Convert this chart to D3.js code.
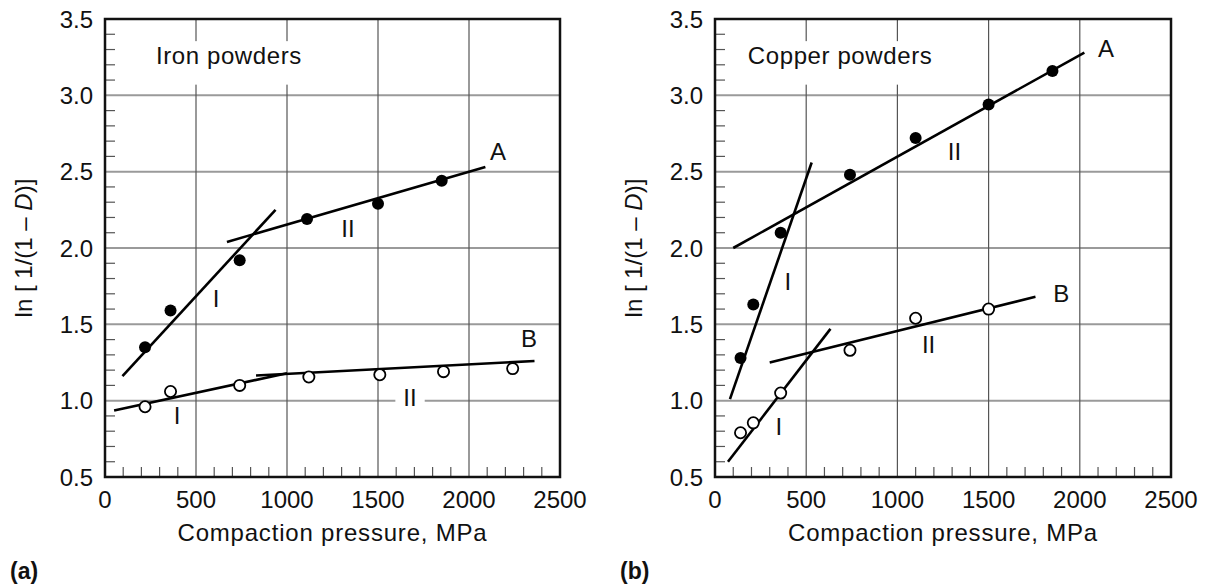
<!DOCTYPE html>
<html>
<head>
<meta charset="utf-8">
<script src="https://cdn.jsdelivr.net/npm/d3@7"></script>
<style>
  body { margin: 0; background: #fff; }
  svg { display: block; }
  text { font-family: "Liberation Sans", Arial, Helvetica, sans-serif; fill: #111; }
</style>
</head>
<body>
<svg id="chart" width="1210" height="587"></svg>
<script>
// ---------- data ----------
const xTicks = [0, 500, 1000, 1500, 2000, 2500];
const yTicks = [0.5, 1.0, 1.5, 2.0, 2.5, 3.0, 3.5];
const xGrid = [500, 1000, 1500, 2000];
const yGrid = [1.0, 1.5, 2.0, 2.5, 3.0];

// Iron powders
const ironA_x = [220, 360, 740, 1110, 1500, 1850];
const ironA_y = [1.35, 1.59, 1.92, 2.19, 2.29, 2.44];
const ironB_x = [220, 360, 740, 1120, 1510, 1860, 2240];
const ironB_y = [0.96, 1.06, 1.10, 1.155, 1.17, 1.19, 1.21];
const ironLineA_I  = [[96, 1.16], [937, 2.25]];
const ironLineA_II = [[670, 2.04], [2090, 2.53]];
const ironLineB_I  = [[50, 0.935], [1000, 1.18]];
const ironLineB_II = [[830, 1.165], [2360, 1.26]];
const ironLabels = [
  {t: "A", x: 2159, y: 2.63}, {t: "I", x: 610, y: 1.67}, {t: "II", x: 1335, y: 2.13},
  {t: "B", x: 2330, y: 1.41}, {t: "I", x: 396, y: 0.905}, {t: "II", x: 1676, y: 1.02, bg: true}
];

// Copper powders
const copperA_x = [140, 210, 360, 740, 1100, 1500, 1850];
const copperA_y = [1.28, 1.63, 2.10, 2.48, 2.72, 2.94, 3.16];
const copperB_x = [140, 210, 360, 740, 1100, 1500];
const copperB_y = [0.79, 0.855, 1.05, 1.33, 1.54, 1.60];
const copperLineA_I  = [[82, 1.01], [530, 2.56]];
const copperLineA_II = [[100, 2.0], [2025, 3.28]];
const copperLineB_I  = [[71, 0.60], [633, 1.47]];
const copperLineB_II = [[300, 1.25], [1757, 1.68]];
const copperLabels = [
  {t: "A", x: 2144, y: 3.31}, {t: "II", x: 1313, y: 2.63}, {t: "I", x: 399, y: 1.78},
  {t: "B", x: 1898, y: 1.705}, {t: "II", x: 1171, y: 1.365}, {t: "I", x: 350, y: 0.83}
];

const panels = [
  {left: 105, right: 560, title: "Iron powders", titleX: 280, tag: "(a)", tagX: 10, yTitleX: 23,
   A: [ironA_x, ironA_y], B: [ironB_x, ironB_y],
   lines: [ironLineA_I, ironLineA_II, ironLineB_I, ironLineB_II], labels: ironLabels},
  {left: 715, right: 1171, title: "Copper powders", titleX: 180, tag: "(b)", tagX: 620, yTitleX: 633,
   A: [copperA_x, copperA_y], B: [copperB_x, copperB_y],
   lines: [copperLineA_I, copperLineA_II, copperLineB_I, copperLineB_II], labels: copperLabels}
];

const svg = d3.select("#chart");
const TOP = 19, BOTTOM = 477;
const FS = 24;

panels.forEach(p => {
  const x = d3.scaleLinear().domain([0, 2500]).range([p.left, p.right]);
  const y = d3.scaleLinear().domain([0.5, 3.5]).range([BOTTOM, TOP]);
  const g = svg.append("g");

  // grid
  g.selectAll(".hg").data(yGrid).join("line")
    .attr("x1", p.left).attr("x2", p.right)
    .attr("y1", d => y(d)).attr("y2", d => y(d))
    .attr("stroke", "#9a9a9a").attr("stroke-width", 2);
  g.selectAll(".vg").data(xGrid).join("line")
    .attr("y1", TOP).attr("y2", BOTTOM)
    .attr("x1", d => x(d)).attr("x2", d => x(d))
    .attr("stroke", "#555").attr("stroke-width", 1.2);

  // minor ticks
  const xMinor = d3.range(100, 2500, 100).filter(v => v % 500 !== 0);
  g.selectAll(".xm").data(xMinor).join("line")
    .attr("x1", d => x(d)).attr("x2", d => x(d))
    .attr("y1", BOTTOM).attr("y2", BOTTOM - 10)
    .attr("stroke", "#555").attr("stroke-width", 1.2);
  const yMinor = d3.range(6, 35, 1).map(v => v / 10).filter(v => Math.round(v * 10) % 5 !== 0);
  g.selectAll(".ym").data(yMinor).join("line")
    .attr("x1", p.left).attr("x2", p.left + 10)
    .attr("y1", d => y(d)).attr("y2", d => y(d))
    .attr("stroke", "#555").attr("stroke-width", 1.2);

  // title box
  const tt = g.append("text").text(p.title)
    .attr("x", x(p.titleX)).attr("y", y(3.26))
    .attr("dominant-baseline", "central").attr("font-size", FS)
    .attr("letter-spacing", 0.6);
  const bb = tt.node().getBBox();
  g.insert("rect", "text").attr("x", bb.x - 8).attr("y", y(3.355)).attr("width", bb.width + 16)
    .attr("height", y(3.07) - y(3.355)).attr("fill", "#fff");

  // fit lines
  p.lines.forEach(l => {
    g.append("line")
      .attr("x1", x(l[0][0])).attr("y1", y(l[0][1]))
      .attr("x2", x(l[1][0])).attr("y2", y(l[1][1]))
      .attr("stroke", "#000").attr("stroke-width", 2.6);
  });

  // labels
  p.labels.forEach(L => {
    const t = g.append("text").text(L.t).attr("x", x(L.x)).attr("y", y(L.y))
      .attr("text-anchor", "middle").attr("dominant-baseline", "central")
      .attr("font-size", FS);
    if (L.bg) {
      const b = t.node().getBBox();
      g.insert("rect", () => t.node()).attr("x", b.x - 8).attr("y", b.y + 4)
        .attr("width", b.width + 16).attr("height", b.height - 8).attr("fill", "#fff");
    }
  });

  // points
  g.selectAll(".pa").data(p.A[0].map((v, i) => [v, p.A[1][i]])).join("circle")
    .attr("cx", d => x(d[0])).attr("cy", d => y(d[1])).attr("r", 6).attr("fill", "#000");
  g.selectAll(".pb").data(p.B[0].map((v, i) => [v, p.B[1][i]])).join("circle")
    .attr("cx", d => x(d[0])).attr("cy", d => y(d[1])).attr("r", 5.6)
    .attr("fill", "#fff").attr("stroke", "#000").attr("stroke-width", 1.8);

  // frame
  g.append("rect").attr("x", p.left).attr("y", TOP)
    .attr("width", p.right - p.left).attr("height", BOTTOM - TOP)
    .attr("fill", "none").attr("stroke", "#111").attr("stroke-width", 2.5);

  // tick labels
  g.selectAll(".xt").data(xTicks).join("text")
    .attr("x", d => x(d)).attr("y", 508).attr("text-anchor", "middle")
    .attr("font-size", FS).text(d => d);
  g.selectAll(".yt").data(yTicks).join("text")
    .attr("x", p.left - 12).attr("y", d => y(d)).attr("text-anchor", "end")
    .attr("dominant-baseline", "central").attr("font-size", FS).text(d => d.toFixed(1));

  // axis titles
  g.append("text").attr("x", (p.left + p.right) / 2).attr("y", 541)
    .attr("text-anchor", "middle").attr("font-size", FS).attr("letter-spacing", 0.8)
    .text("Compaction pressure, MPa");
  const yt = g.append("text")
    .attr("transform", `translate(${p.yTitleX},${y(2.0)}) rotate(-90)`)
    .attr("text-anchor", "middle").attr("dominant-baseline", "central").attr("font-size", FS);
  yt.append("tspan").text("ln [ 1/(1 \u2013 ");
  yt.append("tspan").attr("font-style", "italic").text("D");
  yt.append("tspan").text(")]");

  // panel tag
  g.append("text").attr("x", p.tagX).attr("y", 579).attr("font-size", 23)
    .attr("font-weight", "bold").text(p.tag);
});
</script>
</body>
</html>
